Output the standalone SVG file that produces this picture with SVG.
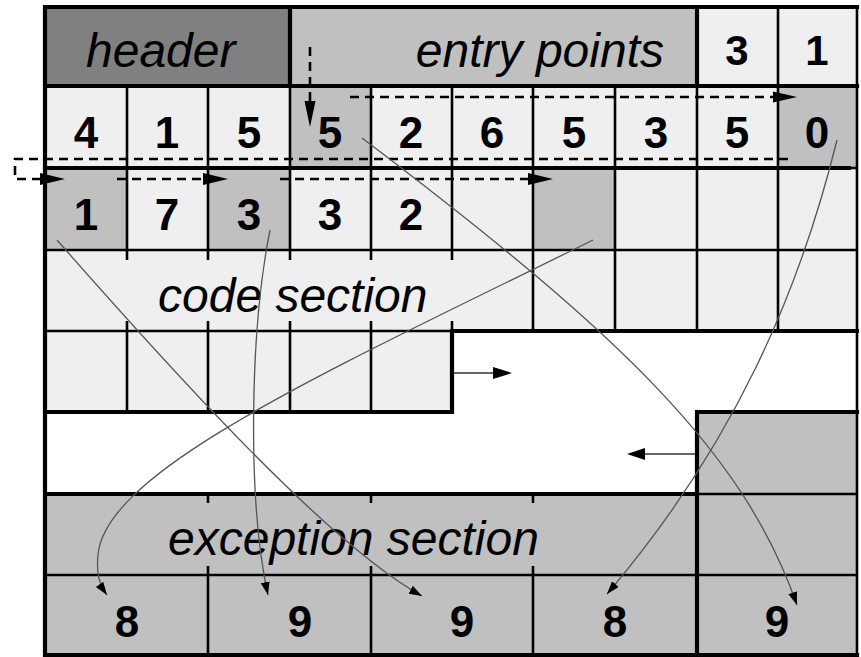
<svg xmlns="http://www.w3.org/2000/svg" width="861" height="657" viewBox="0 0 861 657">
<defs>
<style>
.lbl{font-family:"Liberation Sans",Arial,sans-serif;font-style:italic;font-size:48px;fill:#000}
.num{font-family:"Liberation Sans",Arial,sans-serif;font-weight:bold;font-size:44px;fill:#000;text-anchor:middle}
.n0{font-size:42px}
.dk{fill:#808080}
.md{fill:#c0c0c0}
.lt{fill:#efefef}
.wh{fill:#ffffff}
.thin{stroke:#000;stroke-width:2.6;fill:none}
.thick{stroke:#000;stroke-width:4.2;fill:none;stroke-linecap:square}
.dash{stroke:#000;stroke-width:2.6;fill:none;stroke-dasharray:9 6}
.curve{stroke:#555;stroke-width:1.3;fill:none;marker-end:url(#ah)}
.solid{stroke:#333;stroke-width:1.4;fill:none}
.head{fill:#000}
</style>
<marker id="ah" markerUnits="userSpaceOnUse" markerWidth="14" markerHeight="10" refX="13" refY="4.5" orient="auto"><path d="M0,0 L13,4.5 L0,9 z" fill="#000"/></marker>
</defs>
<rect x="0" y="0" width="861" height="657" fill="#fff"/>

<g id="header"><rect class="dk" x="45" y="7" width="245" height="79"/><text class="lbl" x="86" y="67">header</text></g>
<g id="entry-points"><rect class="md" x="290" y="7" width="407" height="79"/><text class="lbl" x="664" y="67" text-anchor="end">entry points</text></g>
<g id="r0c8"><rect class="lt" x="697" y="7" width="81" height="79"/><text class="num n0" x="737" y="65">3</text></g>
<g id="r0c9"><rect class="lt" x="778" y="7" width="79" height="79"/><text class="num n0" x="817" y="65">1</text></g>

<g id="r1c0"><rect class="lt" x="45" y="86" width="82" height="82"/><text class="num" x="86" y="148">4</text></g>
<g id="r1c1"><rect class="lt" x="127" y="86" width="81" height="82"/><text class="num" x="167" y="148">1</text></g>
<g id="r1c2"><rect class="lt" x="208" y="86" width="82" height="82"/><text class="num" x="249" y="148">5</text></g>
<g id="r1c3"><rect class="md" x="290" y="86" width="81" height="82"/><text class="num" x="330" y="148">5</text></g>
<g id="r1c4"><rect class="lt" x="371" y="86" width="81" height="82"/><text class="num" x="411" y="148">2</text></g>
<g id="r1c5"><rect class="lt" x="452" y="86" width="81" height="82"/><text class="num" x="492" y="148">6</text></g>
<g id="r1c6"><rect class="lt" x="533" y="86" width="82" height="82"/><text class="num" x="574" y="148">5</text></g>
<g id="r1c7"><rect class="lt" x="615" y="86" width="82" height="82"/><text class="num" x="656" y="148">3</text></g>
<g id="r1c8"><rect class="lt" x="697" y="86" width="81" height="82"/><text class="num" x="737" y="148">5</text></g>
<g id="r1c9"><rect class="md" x="778" y="86" width="79" height="82"/><text class="num" x="817" y="148">0</text></g>

<g id="r2c0"><rect class="md" x="45" y="168" width="82" height="82"/><text class="num" x="86" y="230">1</text></g>
<g id="r2c1"><rect class="lt" x="127" y="168" width="81" height="82"/><text class="num" x="167" y="230">7</text></g>
<g id="r2c2"><rect class="md" x="208" y="168" width="82" height="82"/><text class="num" x="249" y="230">3</text></g>
<g id="r2c3"><rect class="lt" x="290" y="168" width="81" height="82"/><text class="num" x="330" y="230">3</text></g>
<g id="r2c4"><rect class="lt" x="371" y="168" width="81" height="82"/><text class="num" x="411" y="230">2</text></g>
<g id="r2c5"><rect class="lt" x="452" y="168" width="81" height="82"/></g>
<g id="r2c6"><rect class="md" x="533" y="168" width="82" height="82"/></g>
<g id="r2c7"><rect class="lt" x="615" y="168" width="82" height="82"/></g>
<g id="r2c8"><rect class="lt" x="697" y="168" width="81" height="82"/></g>
<g id="r2c9"><rect class="lt" x="778" y="168" width="79" height="82"/></g>

<g id="code-section"><rect class="lt" x="45" y="250" width="812" height="81"/><rect class="lt" x="45" y="331" width="407" height="81"/><text class="lbl" x="158" y="312">code section</text></g>
<g id="free-space"><rect class="wh" x="452" y="331" width="405" height="81"/><rect class="wh" x="45" y="412" width="652" height="82"/></g>
<g id="exception-section"><rect class="md" x="697" y="412" width="160" height="82"/><rect class="md" x="45" y="494" width="812" height="81"/><text class="lbl" x="168" y="555">exception section</text></g>
<g id="r7c0"><rect class="md" x="45" y="575" width="163" height="80"/><text class="num" x="127" y="637">8</text></g>
<g id="r7c1"><rect class="md" x="208" y="575" width="163" height="80"/><text class="num" x="300" y="637">9</text></g>
<g id="r7c2"><rect class="md" x="371" y="575" width="162" height="80"/><text class="num" x="462" y="637">9</text></g>
<g id="r7c3"><rect class="md" x="533" y="575" width="164" height="80"/><text class="num" x="615" y="637">8</text></g>
<g id="r7c4"><rect class="md" x="697" y="575" width="160" height="80"/><text class="num" x="777" y="637">9</text></g>

<g id="grid">
<path class="thin" d="M778,7V86 M127,86V168 M208,86V168 M290,86V168 M371,86V168 M452,86V168 M533,86V168 M615,86V168 M697,86V168 M778,86V168
M127,168V250 M208,168V250 M290,168V250 M371,168V250 M452,168V250 M533,168V250 M615,168V250 M697,168V250 M778,168V250
M45,168H857 M45,250H857
M533,250V331 M615,250V331 M697,250V331 M778,250V331
M127,250V260 M208,250V260 M290,250V260 M371,250V260 M452,250V260
M127,321V331 M208,321V331 M290,321V331 M371,321V331 M452,321V331
M45,331H452 M127,331V412 M208,331V412 M290,331V412 M371,331V412
M697,494H857 M45,575H857
M208,494V503 M371,494V503 M533,494V503 M208,566V575 M371,566V575 M533,566V575
M208,575V655 M371,575V655 M533,575V655
M857,7V655"/>
<path class="thick" d="M45,7H857 M45,7V655 M45,655H857 M45,86H857 M290,7V86 M697,7V86 M45,168H849
M452,331H857 M452,331V412 M45,412H452 M697,412H857 M697,412V655 M45,494H697"/>
</g>

<g id="connectors">
<path class="dash" d="M310,47V103"/>
<polygon class="head" points="304.5,101 315.5,101 310,127"/>
<path class="dash" d="M350,97H774"/>
<polygon class="head" points="773,91.5 797,97 773,102.5"/>
<path class="dash" d="M788,159H15V179H41"/>
<polygon class="head" points="40,173 65,179 40,185"/>
<path class="dash" d="M117,179H204"/>
<polygon class="head" points="203,173 228,179 203,185"/>
<path class="dash" d="M280,179H529"/>
<polygon class="head" points="528,173 553,179 528,185"/>
<path class="solid" d="M454,373H495"/>
<polygon class="head" points="493,367 512,373 493,379"/>
<path class="solid" d="M695,454H643"/>
<polygon class="head" points="645,448 627,454 645,460"/>
<path class="curve" d="M362,138 C626,338 744,454 797,605"/>
<path class="curve" d="M837,140 C800,290 735,444 607,594"/>
<path class="curve" d="M270,230 C250,330 247,500 268,595"/>
<path class="curve" d="M57,240 C180,380 330,545 422,596"/>
<path class="curve" d="M593,240 C330,370 105,470 98,555 C96,575 100,585 107,595"/>
</g>
</svg>
